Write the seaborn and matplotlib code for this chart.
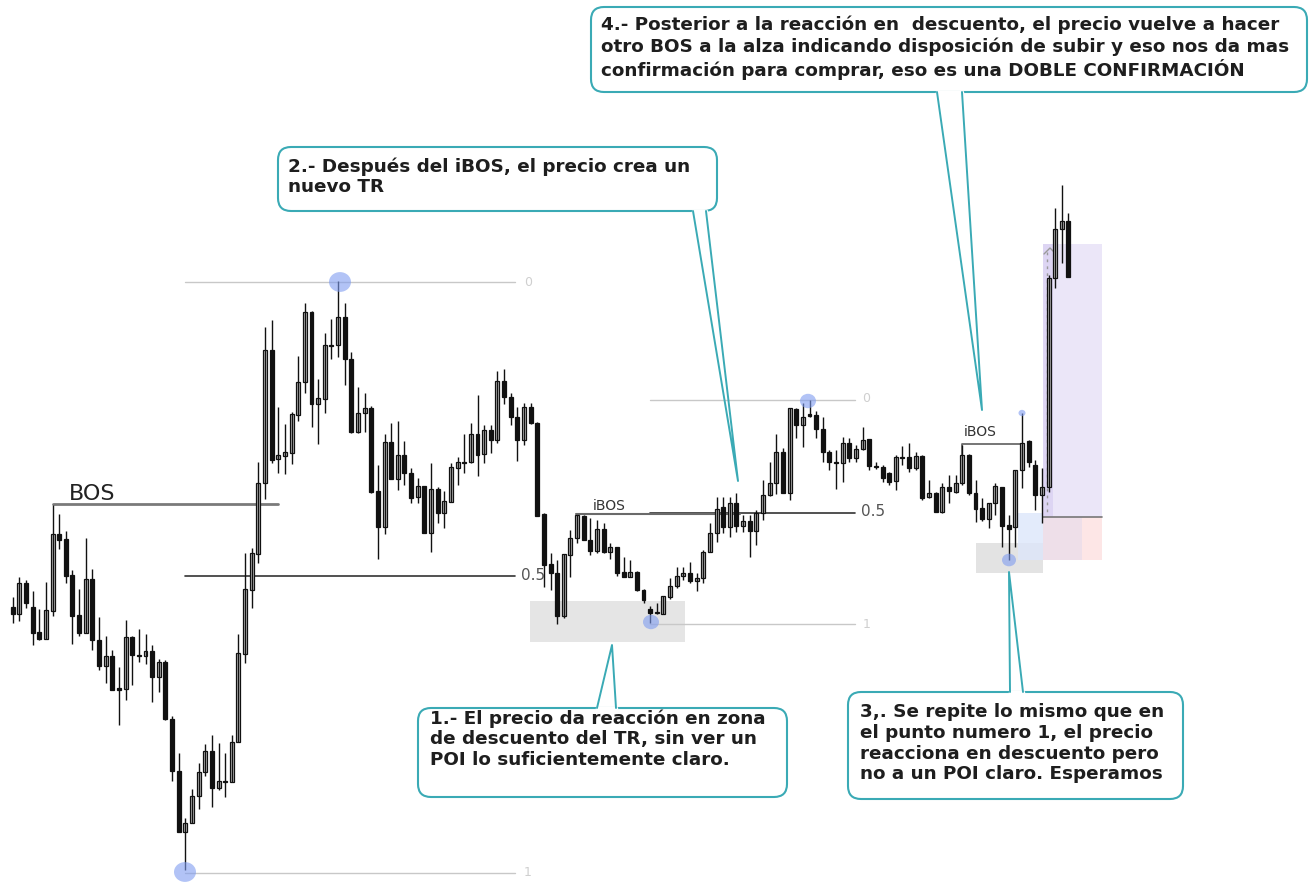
import numpy as np
import pandas as pd
import matplotlib.pyplot as plt
from matplotlib.patches import FancyBboxPatch, Rectangle, Ellipse
import seaborn as sns

# Candle levels (screen level, smaller = higher price)
open_px = [607, 614, 583, 607, 632, 639, 611, 534, 539, 575,
           615, 633, 579, 640, 666, 656, 688, 689, 637, 655,
           656, 651, 677, 662, 719, 771, 832, 823, 796, 772,
           751, 788, 781, 782, 742, 654, 590, 554, 483, 350,
           459, 456, 453, 415, 382, 312, 404, 399, 345, 345,
           317, 359, 432, 413, 408, 491, 527, 442, 479, 455,
           473, 497, 486, 533, 489, 513, 502, 468, 462, 462,
           434, 454, 430, 440, 381, 397, 417, 440, 407, 423,
           514, 564, 573, 616, 555, 538, 516, 540, 551, 529,
           552, 547, 572, 577, 572, 590, 609, 613, 614, 597,
           586, 576, 573, 581, 578, 552, 533, 507, 527, 503,
           526, 521, 531, 513, 495, 483, 452, 493, 409, 425,
           414, 415, 429, 452, 462, 463, 443, 458, 449, 439,
           466, 467, 473, 481, 457, 457, 468, 456, 497, 493,
           512, 487, 492, 483, 455, 493, 508, 519, 503, 487,
           525, 527, 470, 441, 465, 495, 487, 278, 229, 221]
high_px = [597, 577, 580, 591, 609, 582, 505, 514, 531, 570,
           589, 538, 569, 617, 636, 650, 667, 620, 636, 629,
           634, 645, 659, 660, 716, 753, 818, 789, 763, 744,
           735, 743, 753, 735, 634, 553, 548, 462, 327, 320,
           407, 424, 412, 356, 303, 311, 379, 333, 319, 281,
           303, 352, 387, 393, 406, 465, 434, 423, 421, 441,
           468, 478, 486, 463, 487, 491, 463, 457, 434, 423,
           395, 425, 425, 371, 369, 393, 407, 403, 403, 422,
           513, 553, 560, 554, 530, 515, 515, 518, 520, 523,
           543, 547, 557, 560, 571, 589, 606, 603, 596, 578,
           567, 567, 562, 573, 550, 523, 497, 497, 497, 493,
           515, 515, 510, 480, 462, 434, 448, 408, 408, 403,
           400, 411, 417, 450, 450, 437, 438, 445, 427, 439,
           462, 465, 472, 455, 446, 443, 452, 455, 480, 492,
           483, 475, 475, 445, 454, 480, 498, 503, 483, 487,
           515, 470, 413, 440, 460, 468, 275, 208, 185, 213]
low_px = [623, 621, 608, 645, 640, 639, 616, 549, 583, 644,
          636, 633, 650, 670, 683, 690, 725, 700, 685, 662,
          664, 702, 692, 720, 781, 832, 870, 823, 809, 776,
          807, 790, 797, 782, 742, 663, 608, 563, 499, 463,
          473, 474, 464, 421, 393, 427, 444, 413, 359, 357,
          385, 433, 433, 432, 493, 559, 534, 479, 490, 485,
          503, 503, 533, 552, 523, 528, 502, 485, 473, 463,
          476, 463, 453, 443, 404, 425, 461, 445, 424, 516,
          587, 590, 624, 618, 577, 543, 540, 555, 553, 553,
          559, 576, 577, 577, 591, 603, 623, 614, 614, 599,
          588, 580, 583, 591, 583, 552, 542, 533, 537, 532,
          532, 557, 545, 520, 496, 494, 493, 500, 438, 447,
          417, 438, 462, 470, 489, 482, 462, 462, 450, 470,
          469, 482, 485, 490, 465, 472, 470, 500, 498, 512,
          513, 503, 493, 485, 495, 522, 521, 528, 515, 547,
          560, 547, 488, 467, 510, 523, 492, 288, 263, 277]
close_px = [614, 583, 603, 633, 639, 610, 534, 540, 576, 616,
            633, 579, 640, 666, 656, 690, 690, 637, 655, 656,
            651, 677, 662, 719, 771, 832, 823, 796, 772, 751,
            788, 781, 782, 742, 653, 589, 553, 483, 350, 460,
            455, 452, 414, 382, 312, 404, 398, 345, 346, 317,
            359, 432, 413, 408, 492, 527, 442, 479, 455, 473,
            498, 486, 533, 489, 513, 501, 467, 462, 463, 434,
            455, 430, 440, 381, 397, 417, 440, 407, 423, 516,
            565, 573, 616, 554, 538, 515, 540, 551, 529, 552,
            547, 573, 577, 572, 590, 600, 613, 612, 596, 586,
            576, 573, 581, 578, 552, 533, 509, 527, 503, 526,
            521, 531, 513, 495, 483, 452, 493, 408, 425, 417,
            416, 429, 452, 462, 463, 443, 458, 449, 440, 466,
            467, 478, 482, 457, 458, 468, 456, 498, 493, 512,
            487, 491, 483, 455, 493, 509, 519, 503, 486, 526,
            529, 470, 443, 462, 495, 487, 278, 229, 221, 277]

callout_1 = "1.- El precio da reacción en zona\nde descuento del TR, sin ver un\nPOI lo suficientemente claro."
callout_2 = "2.- Después del iBOS, el precio crea un\nnuevo TR"
callout_3 = ("3,. Se repite lo mismo que en\nel punto numero 1, el precio\n"
             "reacciona en descuento pero\nno a un POI claro. Esperamos")
callout_4 = ("4.- Posterior a la reacción en  descuento, el precio vuelve a hacer\n"
             "otro BOS a la alza indicando disposición de subir y eso nos da mas\n"
             "confirmación para comprar, eso es una DOBLE CONFIRMACIÓN")

df = pd.DataFrame({"open": open_px, "high": high_px, "low": low_px, "close": close_px})
df["idx"] = np.arange(len(df))
df["bull"] = df["close"] < df["open"]
df["bottom"] = df[["open", "close"]].min(axis=1)
df["body"] = (df["open"] - df["close"]).abs().clip(lower=1.3)

sns.set_theme(style="white")
plt.rcParams["font.family"] = ["DejaVu Sans"]

W, H = 1314, 882
X0, DX = 12.7, 6.64   # first candle position and candle spacing on the canvas

fig = plt.figure(figsize=(W / 100, H / 100), dpi=100)
fig.patch.set_facecolor("white")
bg = fig.add_axes([0, 0, 1, 1], zorder=0)
ax = fig.add_axes([0, 0, 1, 1], zorder=1)
fg = fig.add_axes([0, 0, 1, 1], zorder=2)
for a in (bg, fg):
    a.set_xlim(0, W)
    a.set_ylim(H, 0)
ax.set_xlim(-X0 / DX, (W - X0) / DX)
ax.set_ylim(H, 0)
for a in (bg, ax, fg):
    a.axis("off")
    a.patch.set_alpha(0)

# --- zones ---
bg.add_patch(Rectangle((530, 601), 155, 41, color="#e5e5e5", lw=0))
bg.add_patch(Rectangle((976, 543), 67, 30, color="#e3e3e3", lw=0))
bg.add_patch(Rectangle((1018, 513), 25, 47, color="#dde6fa", alpha=0.8, lw=0))
bg.add_patch(Rectangle((1043, 244), 59, 273, color="#ebe6f8", lw=0))
bg.add_patch(Rectangle((1043, 244), 10, 273, color="#ddd5f3", lw=0))
bg.add_patch(Rectangle((1043, 517), 39, 43, color="#eedfe9", lw=0))
bg.add_patch(Rectangle((1082, 517), 20, 43, color="#fde6e6", lw=0))
bg.plot([1043, 1102], [517, 517], color="#777777", lw=1.2)
bg.plot([1047, 1047], [252, 512], color="#9a9a9a", lw=1, ls=(0, (2, 3)))
bg.plot([1044, 1050, 1056], [254, 248, 254], color="#9a9a9a", lw=1)

# --- fib ranges ---
gray_lv = "#c8c8c8"
bg.plot([185, 515], [282, 282], color=gray_lv, lw=1)
bg.plot([185, 515], [576, 576], color="#333333", lw=1.2)
bg.plot([185, 515], [873, 873], color=gray_lv, lw=1)
bg.text(524, 282, "0", color="#cfcfcf", fontsize=9, va="center")
bg.text(521, 576, "0.5", color="#555555", fontsize=11, va="center")
bg.text(524, 873, "1", color="#cfcfcf", fontsize=9, va="center")

bg.plot([650, 855], [400, 400], color=gray_lv, lw=1)
bg.plot([650, 855], [513, 513], color="#333333", lw=1.2)
bg.plot([650, 855], [624, 624], color=gray_lv, lw=1)
bg.text(862, 399, "0", color="#cfcfcf", fontsize=9, va="center")
bg.text(861, 512, "0.5", color="#555555", fontsize=11, va="center")
bg.text(863, 624, "1", color="#cfcfcf", fontsize=9, va="center")

# --- structure breaks ---
bg.plot([53, 278], [504, 504], color="#7a7a7a", lw=2)
bg.text(69, 494, "BOS", fontsize=16, color="#222222", va="center")
bg.plot([576, 740], [514, 514], color="#6a6a6a", lw=1.5)
bg.text(593, 506, "iBOS", fontsize=10, color="#333333", va="center")
bg.plot([962, 962, 1022], [455, 444, 444], color="#6a6a6a", lw=1.3)
bg.text(964, 432, "iBOS", fontsize=10, color="#333333", va="center")

# --- candles ---
ax.vlines(df["idx"], df["high"], df["low"], color="#111111", lw=1)
bull = df[df["bull"]]
bear = df[~df["bull"]]
ax.bar(bull["idx"], bull["body"], bottom=bull["bottom"], width=0.6,
       color="#c2c2c2", edgecolor="#111111", linewidth=0.9)
ax.bar(bear["idx"], bear["body"], bottom=bear["bottom"], width=0.6,
       color="#111111", edgecolor="#111111", linewidth=0.9)

# --- pivots ---
blue = "#7f9cf0"
for (cx, cy, r) in [(340, 282, 11), (185, 872, 11), (651, 622, 8), (808, 401, 8),
                    (1009, 560, 7), (1022, 413, 3.5)]:
    fg.add_patch(Ellipse((cx, cy), 2 * r, 1.8 * r, color=blue, alpha=0.6, lw=0))

# --- callouts ---
teal = "#3aaab5"


def callout(x, y, w, h, text, tx, ty, p1, p2, tip):
    fg.add_patch(FancyBboxPatch((x, y), w, h, boxstyle="round,pad=0,rounding_size=13",
                                fc="white", ec=teal, lw=1.5, zorder=3))
    fg.plot([p1[0], p2[0]], [p1[1], p2[1]], color="white", lw=2.5, zorder=4)
    fg.plot([p1[0], tip[0], p2[0]], [p1[1], tip[1], p2[1]], color=teal, lw=1.4, zorder=4)
    fg.text(tx, ty, text, fontsize=13.2, fontweight="bold", color="#1e1e1e",
            va="top", ha="left", linespacing=1.2, zorder=5)


callout(418, 708, 369, 89, callout_1, 430, 709, (597, 708), (616, 708), (612, 645))
callout(278, 147, 439, 64, callout_2, 288, 157, (693, 211), (706, 211), (738, 481))
callout(848, 692, 335, 107, callout_3, 860, 703, (1010, 692), (1023, 692), (1009, 572))
callout(591, 7, 716, 85, callout_4, 601, 16, (937, 92), (962, 92), (982, 410))

fig.savefig("out.png", dpi=100, facecolor="white")
